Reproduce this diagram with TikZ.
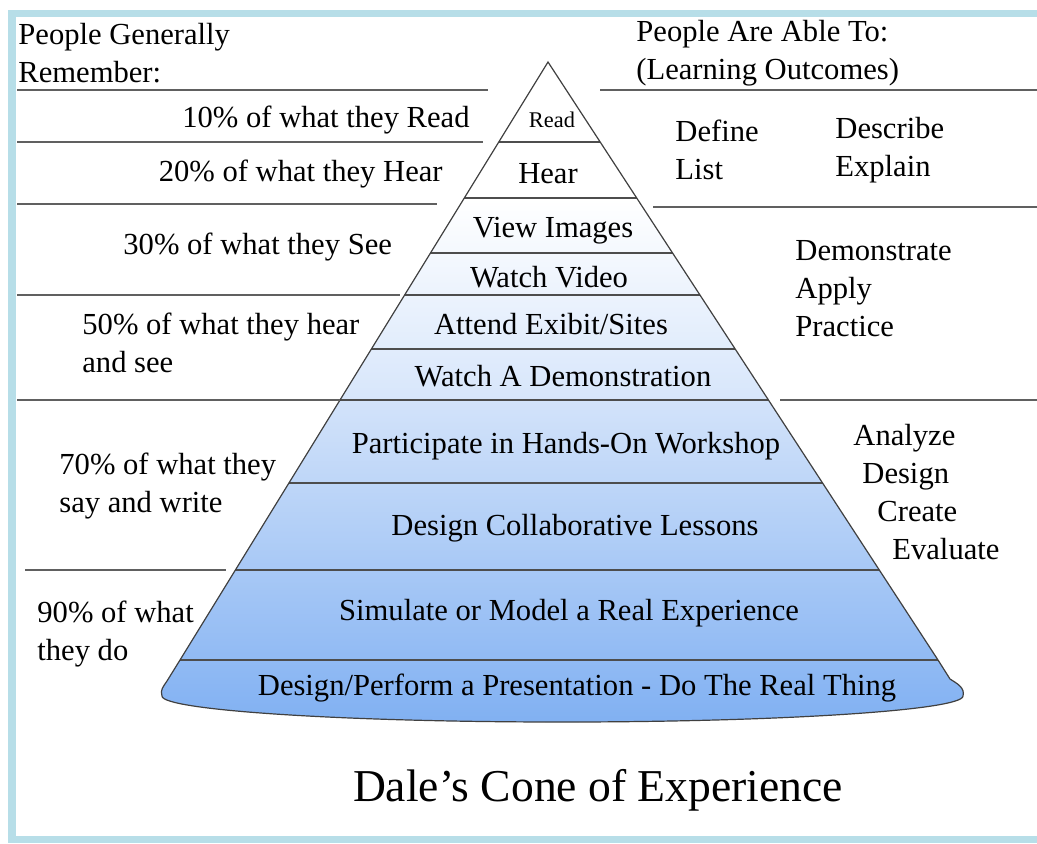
\documentclass[tikz,border=0pt]{standalone}
\usepackage{fontspec}
\setmainfont{Liberation Serif}
\usetikzlibrary{positioning}

\definecolor{frameblue}{HTML}{B7DEE8}
\definecolor{rulegray}{HTML}{606060}
\definecolor{paleblue}{HTML}{D7E6FB}
\definecolor{lightblue}{HTML}{D3E3FA}
\definecolor{deepblue}{HTML}{80B0F2}

\newcommand{\conepath}{(548,62) -- (180,660) -- (167,681)
  .. controls (163,687) and (160,690) .. (162,696)
  .. controls (162,710) and (340,722) .. (562,722)
  .. controls (784,722) and (963,710) .. (963,696)
  .. controls (965,688) and (958,684) .. (950,679)
  -- (938,660) -- cycle}

\begin{document}
\begin{tikzpicture}[x=0.5pt,y=-0.5pt,
    lbl/.style={font=\fontsize{15.3}{19}\selectfont, inner sep=0pt, yshift=-1pt},
    rule/.style={draw=rulegray, line width=0.9pt},
    bandline/.style={draw=rulegray!80!black, line width=0.9pt}]
   \useasboundingbox (0,0) rectangle (1037,843);
   % frame
   \fill[white] (0,0) rectangle (1037,843);
   \fill[frameblue] (8,10) rectangle (1037,17);
   \fill[frameblue] (8,10) rectangle (16,843);
   \fill[frameblue] (8,836) rectangle (1037,843);

   % the cone
   \begin{scope}
     \clip \conepath;
     \shade[top color=white, bottom color=paleblue] (140,198) rectangle (1000,400);
     \shade[top color=lightblue, bottom color=deepblue] (140,400) rectangle (1000,725);
     \foreach \y in {142,198,253,295,349,400,483,570,660}
       \draw[bandline] (140,\y) -- (1000,\y);
   \end{scope}
   \draw[draw=black!75, line width=0.6pt] \conepath;

   % rules on the left
   \draw[rule] (17,90) -- (488,90);
   \draw[rule] (17,142) -- (483,142);
   \draw[rule] (17,204) -- (437,204);
   \draw[rule] (17,295) -- (400,295);
   \draw[rule] (17,400) -- (340,400);
   \draw[rule] (25,570) -- (226,570);
   % rules on the right
   \draw[rule] (600,90) -- (1037,90);
   \draw[rule] (653,207) -- (1037,207);
   \draw[rule] (780,400) -- (1037,400);

   % levels of the cone
   \node[lbl, font=\fontsize{11.2}{13}\selectfont] (read) at (552,118) {Read};
   \node[lbl] (hear) at (548,172) {Hear};
   \node[lbl] (images) at (553,229) {View Images};
   \node[lbl] (video) at (549,275) {Watch Video};
   \node[lbl] (exhibit) at (551,322) {Attend Exibit/Sites};
   \node[lbl] (demo) at (563,374) {Watch A Demonstration};
   \node[lbl] (workshop) at (566,444) {Participate in Hands-On Workshop};
   \node[lbl] (lessons) at (575,526) {Design Collaborative Lessons};
   \node[lbl] (simulate) at (569,611) {Simulate or Model a Real Experience};
   \node[lbl] (perform) at (577,686) {Design/Perform a Presentation - Do The Real Thing};

   % what people remember
   \node[lbl, anchor=west, align=left] (remember) at (18,51) {People Generally\\Remember:};
   \node[lbl, anchor=east] (pct10) at (470,118) {10\% of what they Read};
   \node[lbl, anchor=east] (pct20) at (443,172) {20\% of what they Hear};
   \node[lbl, anchor=west] (pct30) at (123,245) {30\% of what they See};
   \node[lbl, anchor=west, align=left] (pct50) at (82,341) {50\% of what they hear\\and see};
   \node[lbl, anchor=west, align=left] (pct70) at (59,484) {70\% of what they\\say and write};
   \node[lbl, anchor=west, align=left] (pct90) at (37,632) {90\% of what\\they do};

   % learning outcomes
   \node[lbl, anchor=west, align=left] (able) at (636,51) {People Are Able To:\\(Learning Outcomes)};
   \node[lbl, anchor=west, align=left] (outA) at (675,148) {Define\\List};
   \node[lbl, anchor=west, align=left] (outB) at (835,148) {Describe\\Explain};
   \node[lbl, anchor=west, align=left] (outC) at (795,287) {Demonstrate\\Apply\\Practice};
   \node[lbl, anchor=west, align=left] (outD) at (853,490)
     {Analyze\\\hspace*{4.5pt}Design\\\hspace*{12pt}Create\\\hspace*{19.5pt}Evaluate};

   \node[lbl, font=\fontsize{22.8}{27}\selectfont] (title) at (598,788) {Dale’s Cone of Experience};
\end{tikzpicture}
\end{document}
